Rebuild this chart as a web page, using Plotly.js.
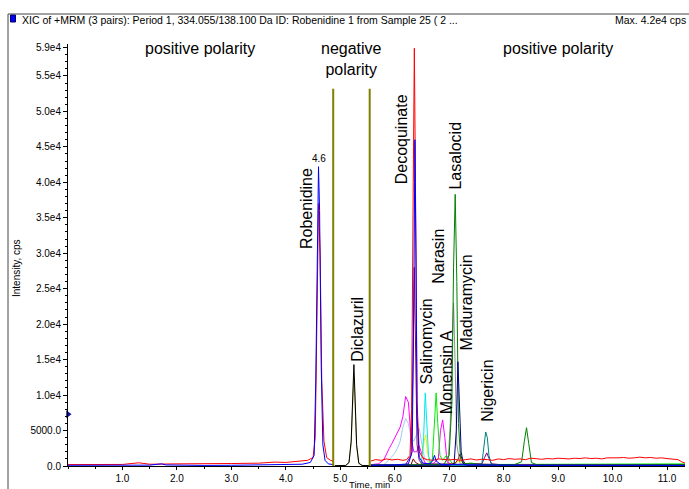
<!DOCTYPE html>
<html>
<head>
<meta charset="utf-8">
<script src="https://cdn.plot.ly/plotly-3.0.1.min.js"></script>
<style>html,body{margin:0;padding:0;background:#fff;}#chart{width:689px;height:489px;}</style>
</head>
<body>
<div id="chart"></div>
<script>
// ---------- DATA ----------
// Period 1 (positive): Robenidine transitions
const robBlueX = [0.0, 0.5, 1.0, 1.5, 1.65, 1.72, 1.8, 2.0, 2.5, 3.0, 3.5, 4.0, 4.3, 4.45, 4.52, 4.55, 4.58, 4.6, 4.62, 4.65, 4.68, 4.72, 4.78, 4.87];
const robBlueY = [100, 80, 100, 120, 250, 300, 150, 100, 80, 100, 120, 150, 250, 500, 1500, 12000, 36000, 42200, 36000, 14000, 3000, 800, 300, 200];
const robRedX = [0.0, 0.5, 1.0, 1.3, 1.5, 2.0, 2.5, 3.0, 3.5, 3.8, 4.0, 4.2, 4.4, 4.5, 4.54, 4.57, 4.6, 4.63, 4.66, 4.7, 4.75, 4.82, 4.87];
const robRedY = [200, 250, 220, 450, 250, 300, 280, 350, 400, 550, 500, 650, 800, 1200, 4000, 20000, 37000, 30000, 12000, 3500, 1200, 800, 700];

// Period 2 (negative): Diclazuril
const dicBlackX = [4.9, 5.0, 5.1, 5.16, 5.2, 5.23, 5.25, 5.27, 5.3, 5.34, 5.4, 5.55];
const dicBlackY = [50, 50, 80, 500, 3500, 10000, 14300, 10000, 3000, 400, 80, 50];
const dicOliveX = [4.9, 5.0, 5.1, 5.16, 5.2, 5.23, 5.25, 5.27, 5.3, 5.34, 5.4, 5.55];
const dicOliveY = [40, 40, 60, 450, 3200, 9000, 12500, 9000, 2700, 350, 60, 40];

// Polarity switch markers
const switchX = [4.87, 5.54];
const switchTop = 53200;

// Period 3 (positive)
const p3RedX = [5.56, 5.65, 5.75, 5.85, 5.95, 6.05, 6.15, 6.22, 6.28, 6.31, 6.34, 6.36, 6.38, 6.41, 6.45, 6.52, 6.6, 6.7, 6.8, 6.9, 7.0, 7.1, 7.2, 7.3, 7.4, 7.5, 7.6, 7.7, 7.8, 7.9, 8.0, 8.1, 8.2, 8.3, 8.4, 8.5, 8.6, 8.7, 8.8, 8.9, 9.0, 9.1, 9.2, 9.3, 9.4, 9.5, 9.6, 9.7, 9.8, 9.9, 10.0, 10.1, 10.2, 10.3, 10.4, 10.5, 10.6, 10.7, 10.8, 10.9, 11.0, 11.1, 11.2, 11.27, 11.33];
const p3RedY = [700, 900, 800, 1000, 850, 950, 800, 900, 1500, 8000, 40000, 58900, 40000, 9000, 2000, 1100, 900, 800, 1000, 900, 850, 950, 800, 900, 1000, 850, 950, 900, 800, 1000, 900, 1050, 950, 1000, 900, 1100, 1000, 950, 1050, 1000, 1100, 1050, 1000, 1100, 1050, 1150, 1050, 1100, 1000, 1150, 1100, 1150, 1200, 1100, 1150, 1250, 1150, 1200, 1100, 1150, 1050, 1000, 900, 600, 400];
const p3BlueX = [5.56, 6.0, 6.25, 6.32, 6.35, 6.37, 6.39, 6.41, 6.45, 6.52, 6.65, 6.7, 6.73, 6.76, 6.85, 7.5, 8.5, 9.5, 10.5, 11.33];
const p3BlueY = [100, 150, 300, 2000, 22000, 46000, 30000, 7000, 1200, 400, 300, 800, 1500, 700, 200, 150, 100, 100, 80, 80];
const purpleX = [5.56, 6.0, 6.2, 6.3, 6.33, 6.36, 6.38, 6.41, 6.45, 6.5, 7.0, 7.6, 7.65, 7.69, 7.73, 7.78, 8.0, 9.0, 10.0, 11.33];
const purpleY = [100, 100, 200, 1500, 12000, 28000, 18000, 3000, 800, 300, 200, 300, 1200, 1850, 1100, 300, 150, 100, 100, 100];
const magentaX = [5.56, 5.7, 5.8, 5.85, 5.9, 5.95, 6.0, 6.05, 6.1, 6.15, 6.2, 6.25, 6.3, 6.35, 6.4, 6.45, 6.5, 6.55, 6.6, 6.7, 6.8, 6.84, 6.88, 6.92, 6.96, 7.05, 7.5, 8.5, 9.5, 10.5, 11.33];
const magentaY = [200, 300, 900, 1800, 2500, 3200, 4000, 4800, 5500, 7000, 9800, 9000, 4000, 2000, 2000, 2800, 1500, 500, 300, 300, 1000, 5000, 6500, 4000, 600, 200, 150, 100, 100, 100, 100];
const lightBlueX = [5.56, 5.8, 5.9, 6.0, 6.05, 6.1, 6.15, 6.2, 6.25, 6.3, 6.35, 6.4, 6.45, 6.5, 6.55, 6.65, 7.0, 8.0, 9.0, 10.0, 11.33];
const lightBlueY = [100, 200, 900, 1800, 2500, 3500, 5500, 6700, 6000, 4000, 3500, 4500, 5300, 3000, 1000, 400, 300, 200, 150, 150, 150];
const cyanX = [5.56, 6.4, 6.49, 6.53, 6.56, 6.59, 6.62, 6.66, 6.72, 7.5, 11.33];
const cyanY = [100, 100, 300, 4000, 10300, 5500, 1500, 300, 150, 100, 100];
const yellowX = [5.56, 6.45, 6.5, 6.54, 6.57, 6.6, 6.64, 6.7, 7.0, 7.2, 7.3, 11.33];
const yellowY = [100, 100, 800, 3500, 4400, 2000, 500, 200, 200, 700, 200, 150];
const limeX = [5.56, 6.6, 6.69, 6.73, 6.76, 6.79, 6.83, 6.88, 6.95, 7.0, 7.05, 7.15, 8.0, 9.0, 11.33];
const limeY = [100, 200, 800, 6000, 10300, 6000, 1500, 800, 1500, 1000, 400, 200, 200, 250, 300];
const greyX = [5.56, 6.9, 6.98, 7.02, 7.05, 7.08, 7.11, 7.14, 7.2, 7.5, 11.33];
const greyY = [100, 100, 500, 6000, 16000, 23000, 14000, 3000, 300, 100, 100];
const greenX = [5.56, 6.9, 7.0, 7.05, 7.08, 7.11, 7.14, 7.17, 7.21, 7.26, 7.4, 7.6, 8.2, 8.33, 8.38, 8.42, 8.46, 8.51, 8.6, 9.0, 10.0, 11.33];
const greenY = [100, 200, 1500, 9000, 28000, 38300, 26000, 6000, 1000, 300, 400, 200, 200, 600, 3500, 5400, 3200, 500, 200, 150, 150, 200];
const navyX = [5.56, 7.0, 7.09, 7.13, 7.16, 7.19, 7.22, 7.26, 7.32, 8.0, 11.33];
const navyY = [100, 100, 300, 5000, 14700, 9000, 2000, 300, 100, 100, 100];
const tealX = [5.56, 7.5, 7.6, 7.64, 7.67, 7.7, 7.73, 7.77, 7.85, 8.5, 11.33];
const tealY = [100, 100, 300, 2500, 4800, 4000, 1500, 300, 100, 100, 100];
const maroonX = [5.56, 6.3, 6.34, 6.38, 6.45, 7.1, 7.16, 7.2, 7.24, 7.3, 8.0, 11.33];
const maroonY = [150, 200, 1000, 500, 200, 300, 900, 1700, 900, 300, 200, 150];

// Retention-time label of the displayed XIC
const apexX = [4.6];
const apexY = [42200];
const apexText = ['4.6'];

// Compound labels (anchored at the label centre, in data units)
const compoundNames = ['Robenidine', 'Diclazuril', 'Decoquinate', 'Salinomycin', 'Narasin', 'Monensin A', 'Lasalocid', 'Maduramycin', 'Nigericin'];
const compoundX = [4.38, 5.30, 6.12, 6.58, 6.79, 6.94, 7.11, 7.32, 7.71];
const compoundY = [36300, 19300, 46100, 17600, 29600, 13200, 43800, 23000, 10600];

// Region labels
const regionText = ['positive polarity', 'negative<br>polarity', 'positive polarity'];
const regionX = [2.42, 5.2, 9.0];
const regionY = [58800, 57400, 58800];

// Axis ticks
const yTickVals = [0, 5000, 10000, 15000, 20000, 25000, 30000, 35000, 40000, 45000, 50000, 55000, 59000];
const yTickText = ['0.0', '5000.0', '1.0e4', '1.5e4', '2.0e4', '2.5e4', '3.0e4', '3.5e4', '4.0e4', '4.5e4', '5.0e4', '5.5e4', '5.9e4'];
const xTickVals = [1, 2, 3, 4, 5, 6, 7, 8, 9, 10, 11];
const xTickText = ['1.0', '2.0', '3.0', '4.0', '5.0', '6.0', '7.0', '8.0', '9.0', '10.0', '11.0'];

// Small intensity marker on the y axis
const markX = [0];
const markY = [7300];

// ---------- LAYOUT HELPERS ----------
const W = 689, H = 489;
const M = {l: 68, r: 4, t: 44, b: 23};
const PW = W - M.l - M.r, PH = H - M.t - M.b;
const xp = px => (px - M.l) / PW;
const yp = py => (H - M.b - py) / PH;

function line(x, y, color, width) {
  return {x: x, y: y, type: 'scatter', mode: 'lines', line: {color: color, width: width || 1}, hoverinfo: 'skip', showlegend: false};
}

const traces = [
  line(lightBlueX, lightBlueY, '#a8c8f0'),
  line(magentaX, magentaY, '#ff00ff'),
  line(yellowX, yellowY, '#f0f000'),
  line(cyanX, cyanY, '#00e8f0'),
  line(limeX, limeY, '#00ee00'),
  line(maroonX, maroonY, '#800000'),
  line(purpleX, purpleY, '#800080'),
  line(tealX, tealY, '#008080'),
  line(greyX, greyY, '#909090'),
  line(greenX, greenY, '#008000'),
  line(navyX, navyY, '#000080'),
  line(robRedX, robRedY, '#ff0000'),
  line(robBlueX, robBlueY, '#0000ff'),
  line(dicOliveX, dicOliveY, '#b0b050'),
  line(dicBlackX, dicBlackY, '#000000'),
  line(p3RedX, p3RedY, '#ff0000'),
  line(p3BlueX, p3BlueY, '#0000ff'),
  line([switchX[0], switchX[0]], [0, switchTop], '#808000', 2),
  line([switchX[1], switchX[1]], [0, switchTop], '#808000', 2),
  {x: markX, y: markY, type: 'scatter', mode: 'markers', marker: {symbol: 'triangle-right', size: 7, color: '#1010a0'}, cliponaxis: false, hoverinfo: 'skip', showlegend: false}
];

const font = 'Liberation Sans, Arial, sans-serif';
const annotations = [];
compoundNames.forEach((t, i) => annotations.push({
  x: compoundX[i], y: compoundY[i], xref: 'x', yref: 'y', text: t, textangle: -90,
  showarrow: false, xanchor: 'center', yanchor: 'middle', font: {family: font, size: 16, color: '#000'}
}));
regionText.forEach((t, i) => annotations.push({
  x: regionX[i], y: regionY[i], xref: 'x', yref: 'y', text: t, showarrow: false,
  xanchor: 'center', yanchor: 'middle', font: {family: font, size: 16, color: '#000'}
}));
apexText.forEach((t, i) => annotations.push({
  x: apexX[i], y: apexY[i], xref: 'x', yref: 'y', text: t, showarrow: false,
  xanchor: 'center', yanchor: 'bottom', yshift: 1, font: {family: font, size: 10, color: '#000'}
}));
annotations.push({x: xp(20), y: yp(20), xref: 'paper', yref: 'paper', text: 'XIC of +MRM (3 pairs): Period 1, 334.055/138.100 Da ID: Robenidine 1 from Sample 25 ( 2 ...',
  showarrow: false, xanchor: 'left', yanchor: 'middle', font: {family: font, size: 10.5, color: '#000'}});
annotations.push({x: xp(688), y: yp(20), xref: 'paper', yref: 'paper', text: 'Max. 4.2e4 cps',
  showarrow: false, xanchor: 'right', yanchor: 'middle', font: {family: font, size: 10.5, color: '#000'}});
annotations.push({x: xp(16), y: yp(268), xref: 'paper', yref: 'paper', text: 'Intensity, cps', textangle: -90,
  showarrow: false, xanchor: 'center', yanchor: 'middle', font: {family: font, size: 10, color: '#000'}});
annotations.push({x: xp(369), y: yp(484.5), xref: 'paper', yref: 'paper', text: 'Time, min',
  showarrow: false, xanchor: 'center', yanchor: 'middle', font: {family: font, size: 9.5, color: '#000'}});

const shapes = [
  {type: 'line', xref: 'paper', yref: 'paper', x0: xp(8), x1: xp(8), y0: yp(14), y1: yp(495), line: {color: '#444', width: 1}},
  {type: 'line', xref: 'paper', yref: 'paper', x0: xp(8), x1: xp(695), y0: yp(14), y1: yp(14), line: {color: '#444', width: 1}},
  {type: 'rect', xref: 'paper', yref: 'paper', x0: xp(10.5), x1: xp(15.5), y0: yp(22), y1: yp(15), fillcolor: '#0000ff', line: {color: '#000060', width: 1}}
];

const layout = {
  width: W, height: H,
  margin: M,
  paper_bgcolor: '#fff', plot_bgcolor: '#fff',
  font: {family: font, size: 10, color: '#000'},
  showlegend: false,
  xaxis: {
    range: [0, 11.33], showgrid: false, zeroline: false, showline: true, linecolor: '#000', linewidth: 1,
    tickmode: 'array', tickvals: xTickVals, ticktext: xTickText, ticks: 'outside', ticklen: 3, tickcolor: '#000',
    tickfont: {family: font, size: 10, color: '#000'},
    minor: {dtick: 0.5, tick0: 0, ticks: 'outside', ticklen: 2, tickcolor: '#000', showgrid: false}
  },
  yaxis: {
    range: [0, 59500], showgrid: false, zeroline: false, showline: true, linecolor: '#000', linewidth: 1,
    tickmode: 'array', tickvals: yTickVals, ticktext: yTickText, ticks: 'outside', ticklen: 4, tickcolor: '#000',
    tickfont: {family: font, size: 10, color: '#000'},
    minor: {dtick: 1000, tick0: 0, ticks: 'outside', ticklen: 2, tickcolor: '#000', showgrid: false}
  },
  annotations: annotations,
  shapes: shapes
};

Plotly.newPlot('chart', traces, layout, {displayModeBar: false, staticPlot: true});
</script>
</body>
</html>
